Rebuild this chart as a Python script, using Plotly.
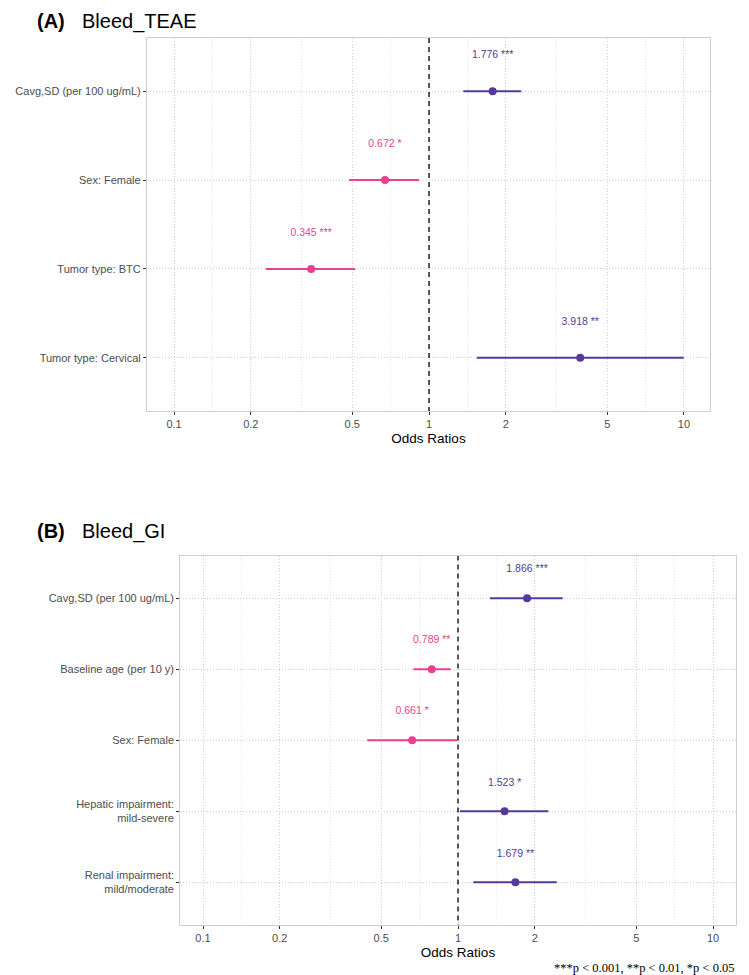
import plotly.graph_objects as go

# ---------------- data ----------------
a_title_tag = "(A)"
a_title = "Bleed_TEAE"
a_categories = ["Cavg,SD (per 100 ug/mL)", "Sex: Female", "Tumor type: BTC", "Tumor type: Cervical"]
a_or = [1.776, 0.672, 0.345, 3.918]
a_low = [1.363, 0.486, 0.229, 1.538]
a_high = [2.30, 0.914, 0.513, 9.97]
a_stars = ["***", "*", "***", "**"]

b_title_tag = "(B)"
b_title = "Bleed_GI"
b_categories = ["Cavg,SD (per 100 ug/mL)", "Baseline age (per 10 y)", "Sex: Female",
                "Hepatic impairment:<br>mild-severe", "Renal impairment:<br>mild/moderate"]
b_or = [1.866, 0.789, 0.661, 1.523, 1.679]
b_low = [1.335, 0.668, 0.441, 1.018, 1.148]
b_high = [2.574, 0.936, 0.994, 2.26, 2.44]
b_stars = ["***", "**", "*", "*", "**"]

x_ticks = [0.1, 0.2, 0.5, 1, 2, 5, 10]
x_ticktext = ["0.1", "0.2", "0.5", "1", "2", "5", "10"]
x_minor = [0.1414, 0.3162, 0.7071, 1.414, 3.162, 7.071]
footnote = "***p < 0.001, **p < 0.01, *p < 0.05"
x_title = "Odds Ratios"

PURPLE = "#553A9A"
PINK = "#EC3F8F"
OFF = 8  # default page body margin
W, H = 749 - OFF, 975 - OFF
FONT = "Liberation Sans, Arial, sans-serif"

fig = go.Figure()


def add_panel(cats, ors, lows, highs, stars, xa, ya):
    n = len(cats)
    ypos = list(range(1, n + 1))
    for i in range(n):
        col = PURPLE if ors[i] > 1 else PINK
        fig.add_trace(go.Scatter(x=[lows[i], highs[i]], y=[ypos[i], ypos[i]], mode="lines",
                                 line=dict(color=col, width=2), xaxis=xa, yaxis=ya,
                                 showlegend=False, hoverinfo="skip"))
        fig.add_trace(go.Scatter(x=[ors[i]], y=[ypos[i]], mode="markers",
                                 marker=dict(color=col, size=8), xaxis=xa, yaxis=ya,
                                 showlegend=False))
        fig.add_trace(go.Scatter(x=[ors[i]], y=[ypos[i] - 0.4], mode="text",
                                 text=[f"{ors[i]:.3f} {stars[i]}"],
                                 textfont=dict(color=col, size=10.5, family=FONT),
                                 textposition="middle center", xaxis=xa, yaxis=ya,
                                 showlegend=False, hoverinfo="skip"))
    # reference line at OR = 1
    fig.add_trace(go.Scatter(x=[1, 1], y=[0.4, n + 0.6], mode="lines",
                             line=dict(color="black", width=1.3, dash="5px,4px"),
                             xaxis=xa, yaxis=ya, showlegend=False, hoverinfo="skip"))


add_panel(a_categories, a_or, a_low, a_high, a_stars, "x", "y")
add_panel(b_categories, b_or, b_low, b_high, b_stars, "x2", "y2")


def px_x(p):
    return (p - OFF) / W


def px_y(p):
    return 1 - (p - OFF) / H


xcommon = dict(type="log", tickvals=x_ticks, ticktext=x_ticktext, ticks="outside", ticklen=3,
               tickcolor="#333333", tickfont=dict(size=11, color="#4D4D4D", family=FONT),
               showgrid=True, gridcolor="#CFCFCF", griddash="1px,2px", gridwidth=1,
               minor=dict(tickvals=x_minor, showgrid=True, gridcolor="#E6E6E6", griddash="1px,2px", gridwidth=1),
               showline=True, mirror=True, linecolor="#CFCFCF", linewidth=1.2, zeroline=False,
               title=dict(text=x_title, font=dict(size=13.5, color="black", family=FONT), standoff=4))
ycommon = dict(ticks="outside", ticklen=3, tickcolor="#333333",
               tickfont=dict(size=11, color="#4D4D4D", family=FONT),
               showgrid=True, gridcolor="#CFCFCF", griddash="1px,2px", gridwidth=1,
               showline=True, mirror=True, linecolor="#CFCFCF", linewidth=1.2, zeroline=False)

fig.update_layout(
    width=W, height=H, margin=dict(l=0, r=0, t=0, b=0),
    paper_bgcolor="white", plot_bgcolor="white", font=dict(family=FONT),
    xaxis=dict(xcommon, domain=[px_x(147), px_x(710)], range=[-1.106, 1.102], anchor="y"),
    yaxis=dict(ycommon, domain=[px_y(411), px_y(38)], range=[len(a_categories) + 0.6, 0.4],
               tickvals=list(range(1, len(a_categories) + 1)), ticktext=a_categories, anchor="x"),
    xaxis2=dict(xcommon, domain=[px_x(180.3), px_x(735.7)], range=[-1.089, 1.089], anchor="y2"),
    yaxis2=dict(ycommon, domain=[px_y(925), px_y(555.5)], range=[len(b_categories) + 0.6, 0.4],
                tickvals=list(range(1, len(b_categories) + 1)), ticktext=b_categories, anchor="x2"),
)

annos = [
    dict(text=f"<b>{a_title_tag}</b>", x=px_x(35), y=px_y(8), yanchor="top"),
    dict(text=a_title, x=px_x(80), y=px_y(8), yanchor="top"),
    dict(text=f"<b>{b_title_tag}</b>", x=px_x(35), y=px_y(531), yanchor="middle"),
    dict(text=b_title, x=px_x(80), y=px_y(531), yanchor="middle"),
]
for a in annos:
    fig.add_annotation(xref="paper", yref="paper", xanchor="left",
                       showarrow=False, font=dict(size=20, color="black", family=FONT), **a)

fig.add_annotation(text=footnote, xref="paper", yref="paper", x=px_x(552), y=px_y(959),
                   xanchor="left", yanchor="top", showarrow=False,
                   font=dict(size=12.5, color="black", family="Liberation Serif, Times New Roman, serif"))

fig.write_html("out.html")
